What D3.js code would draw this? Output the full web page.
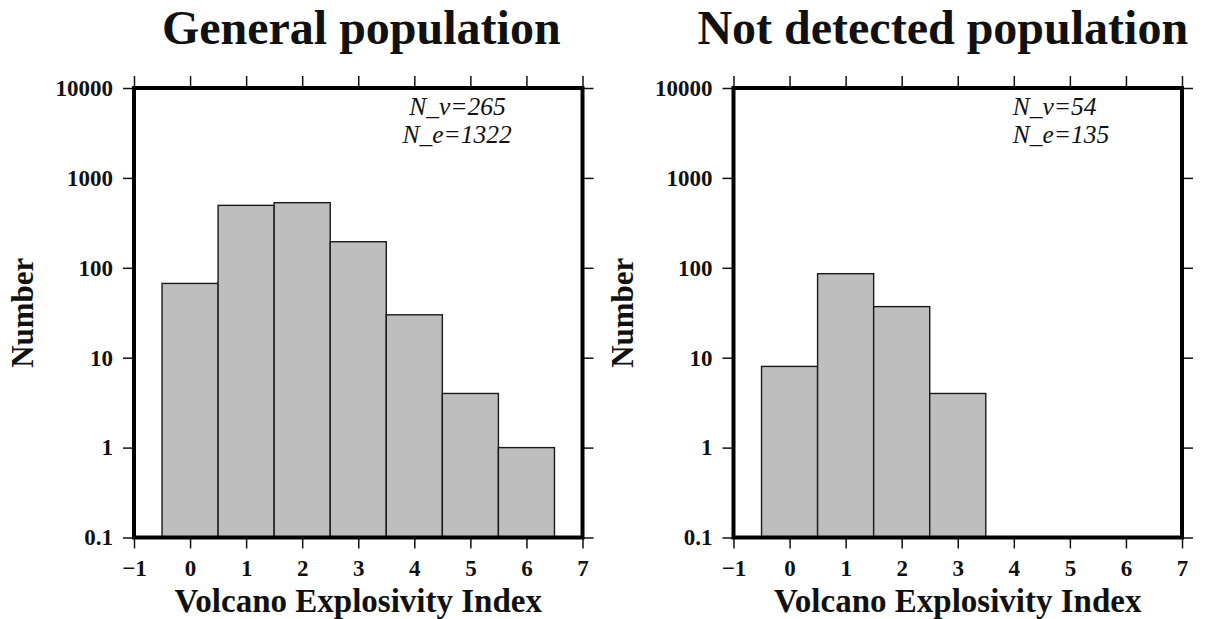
<!DOCTYPE html>
<html>
<head>
<meta charset="utf-8">
<script src="https://cdn.jsdelivr.net/npm/d3@7"></script>
<style>
  html, body { margin: 0; padding: 0; background: #fff; }
  svg { display: block; }
  text { fill: #111; }
</style>
</head>
<body>
<svg id="chart" width="1223" height="619"></svg>
<script>
// VEI histogram bins and event counts per bin
const veiBins = [0, 1, 2, 3, 4, 5, 6];
const generalCounts = [67, 495, 530, 195, 30, 4, 1];
const notDetectedCounts = [8, 86, 37, 4];

// Axis ticks
const xTickValues = [-1, 0, 1, 2, 3, 4, 5, 6, 7];
const yTickValues = [0.1, 1, 10, 100, 1000, 10000];

// Panel titles and sample sizes
const panelTitles = ["General population", "Not detected population"];
const volcanoCounts = [265, 54];
const eruptionCounts = [1322, 135];

const svg = d3.select("#chart");
const SERIF = "'Liberation Serif', 'Times New Roman', serif";

const panels = [
  { left: 134, counts: generalCounts, title: panelTitles[0], nv: volcanoCounts[0], ne: eruptionCounts[0], titleShift: 3, noteX: [3.91, 3.79] },
  { left: 733.5, counts: notDetectedCounts, title: panelTitles[1], nv: volcanoCounts[1], ne: eruptionCounts[1], titleShift: -15, noteX: [3.98, 3.98] }
];

const frameTop = 88, frameBottom = 537.5, frameWidth = 448.5;

panels.forEach(p => {
  const g = svg.append("g");
  const x = d3.scaleLinear().domain([-1, 7]).range([p.left, p.left + frameWidth]);
  const y = d3.scaleLog().domain([0.1, 10000]).range([frameBottom, frameTop]);

  // bars
  g.selectAll("rect.bar")
    .data(p.counts.map((c, i) => ({ bin: veiBins[i], count: c })))
    .join("rect")
    .attr("class", "bar")
    .attr("x", d => x(d.bin - 0.5))
    .attr("width", d => x(d.bin + 0.5) - x(d.bin - 0.5))
    .attr("y", d => y(d.count))
    .attr("height", d => y(0.1) - y(d.count))
    .attr("fill", "#bebebe")
    .attr("stroke", "#1a1a1a")
    .attr("stroke-width", 1.4);

  const fmtY = d => String(d);
  const fmtX = d => d < 0 ? "\u2212" + Math.abs(d) : String(d);

  const styleAxis = sel => {
    sel.select(".domain").remove();
    sel.selectAll(".tick line").attr("stroke", "#111").attr("stroke-width", 1.5);
    sel.selectAll(".tick text")
      .attr("font-family", SERIF)
      .attr("font-weight", "bold")
      .attr("font-size", 23)
      .attr("fill", "#111");
  };

  g.append("g").attr("transform", `translate(0,${frameBottom})`)
    .call(d3.axisBottom(x).tickValues(xTickValues).tickFormat(fmtX).tickSize(11).tickPadding(11))
    .call(styleAxis);
  g.append("g").attr("transform", `translate(0,${frameTop})`)
    .call(d3.axisTop(x).tickValues(xTickValues).tickFormat("").tickSize(12))
    .call(styleAxis);
  g.append("g").attr("transform", `translate(${p.left},0)`)
    .call(d3.axisLeft(y).tickValues(yTickValues).tickFormat(fmtY).tickSize(11).tickPadding(10))
    .call(styleAxis);
  g.append("g").attr("transform", `translate(${p.left + frameWidth},0)`)
    .call(d3.axisRight(y).tickValues(yTickValues).tickFormat("").tickSize(11))
    .call(styleAxis);

  // heavy frame
  g.append("rect")
    .attr("x", p.left).attr("y", frameTop)
    .attr("width", frameWidth).attr("height", frameBottom - frameTop)
    .attr("fill", "none").attr("stroke", "#000").attr("stroke-width", 4);

  // sample size note (two lines in one text block)
  const note = g.append("text")
    .attr("font-family", SERIF).attr("font-style", "italic").attr("font-size", 25.5);
  note.append("tspan")
    .attr("x", x(p.noteX[0])).attr("y", 115)
    .text(`N_v=${p.nv}`);
  note.append("tspan")
    .attr("x", x(p.noteX[1])).attr("y", 143)
    .text(`N_e=${p.ne}`);

  // titles and axis labels
  g.append("text")
    .attr("x", p.left + frameWidth / 2 + p.titleShift).attr("y", 44)
    .attr("text-anchor", "middle")
    .attr("font-family", SERIF).attr("font-weight", "bold").attr("font-size", 48)
    .text(p.title);

  g.append("text")
    .attr("x", p.left + frameWidth / 2).attr("y", 612)
    .attr("text-anchor", "middle")
    .attr("font-family", SERIF).attr("font-weight", "bold").attr("font-size", 33)
    .text("Volcano Explosivity Index");

  g.append("text")
    .attr("transform", `translate(${p.left - 101},${(frameTop + frameBottom) / 2}) rotate(-90)`)
    .attr("text-anchor", "middle")
    .attr("font-family", SERIF).attr("font-weight", "bold").attr("font-size", 31)
    .text("Number");
});
</script>
</body>
</html>
